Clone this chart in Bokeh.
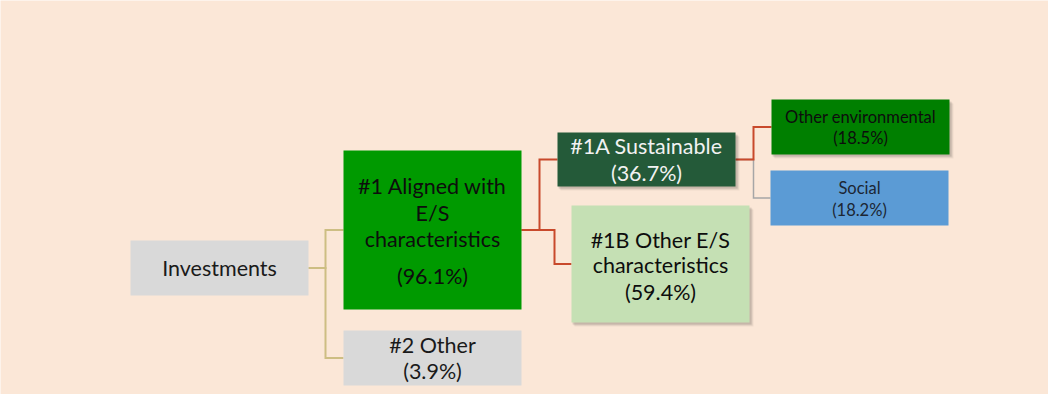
from bokeh.plotting import figure
from bokeh.models import Range1d
from bokeh.core.properties import value
from bokeh.embed import file_html
from bokeh.resources import INLINE

# ---- data ----
node_names = ["Investments", "#1 Aligned with\nE/S\ncharacteristics", "#2 Other",
              "#1A Sustainable", "#1B Other E/S\ncharacteristics",
              "Other environmental", "Social"]
node_pcts = [None, 96.1, 3.9, 36.7, 59.4, 18.5, 18.2]
node_parent = [None, 0, 0, 1, 1, 3, 3]

# ---- layout / style (pixel space of the 1056x405 page) ----
BG = "#FBE7D7"
boxes = [  # x0, x1, y0, y1
    (138, 316, 248, 303),
    (351, 529, 158, 317),
    (351, 529, 338, 393),
    (565, 743, 140, 194),
    (579, 757, 213, 330),
    (779, 957, 107, 162),
    (778, 956, 178, 233),
]
fills = ["#D9D9D9", "#009A00", "#D9D9D9", "#245A39", "#C5E0B4", "#007F00", "#5B9BD5"]
text_colors = ["#1A1A1A", "#0D0D0D", "#1A1A1A", "#F2F2F2", "#0D0D0D", "#0D0D0D", "#1C2633"]
font_sizes = ["21.5px", "21.5px", "21.5px", "21.5px", "21.5px", "16.5px", "16.5px"]
line_ys = [
    [275],
    [193, 220, 246, 283],
    [352, 378],
    [153, 180],
    [247, 272, 299],
    [124, 145],
    [195, 217],
]
shadow = [False, False, False, True, True, True, False]
elbow_x = [None, 333, 333, 547, 562, 761, 761]
line_colors = [None, "#CDBE83", "#CDBE83", "#C8492B", "#C8492B", "#C8492B", "#A6A6A6"]
line_widths = [None, 2, 2, 2, 2, 2, 1.5]

FONT = value("Lato")

p = figure(width=1048, height=394, output_backend="svg", toolbar_location=None,
           x_range=Range1d(8, 1056), y_range=Range1d(402, 8),
           min_border=0, background_fill_color=BG, border_fill_color=BG)
p.axis.visible = False
p.grid.visible = False
p.outline_line_color = None

# connectors (gray first so red lies on top)
order = sorted(range(1, len(node_names)), key=lambda i: 0 if line_colors[i] == "#A6A6A6" else 1)
for i in order:
    par = node_parent[i]
    px0, px1, py0, py1 = boxes[par]
    cx0, cx1, cy0, cy1 = boxes[i]
    pyc = (py0 + py1) / 2
    cyc = (cy0 + cy1) / 2
    ex = elbow_x[i]
    p.line([px1, ex, ex, cx0], [pyc, pyc, cyc, cyc],
           line_color=line_colors[i], line_width=line_widths[i], line_join="miter")

# shadows
for i, (x0, x1, y0, y1) in enumerate(boxes):
    if shadow[i]:
        for k, a in [(4, 0.05), (3, 0.07), (2, 0.10)]:
            p.quad(left=x0 + k - 1, right=x1 + k, top=y0 + k, bottom=y1 + k,
                   fill_color="black", fill_alpha=a, line_color=None)

# boxes
for i, (x0, x1, y0, y1) in enumerate(boxes):
    p.quad(left=x0, right=x1, top=y0, bottom=y1, fill_color=fills[i], line_color=None)

# texts
for i, (x0, x1, y0, y1) in enumerate(boxes):
    lines = node_names[i].split("\n")
    if node_pcts[i] is not None:
        lines.append(f"({node_pcts[i]}%)")
    cx = (x0 + x1) / 2
    p.text(x=[cx] * len(lines), y=line_ys[i], text=lines,
           text_align="center", text_baseline="middle",
           text_font=FONT, text_font_size=font_sizes[i], text_color=text_colors[i])

open("out.html", "w").write(file_html(p, INLINE))
